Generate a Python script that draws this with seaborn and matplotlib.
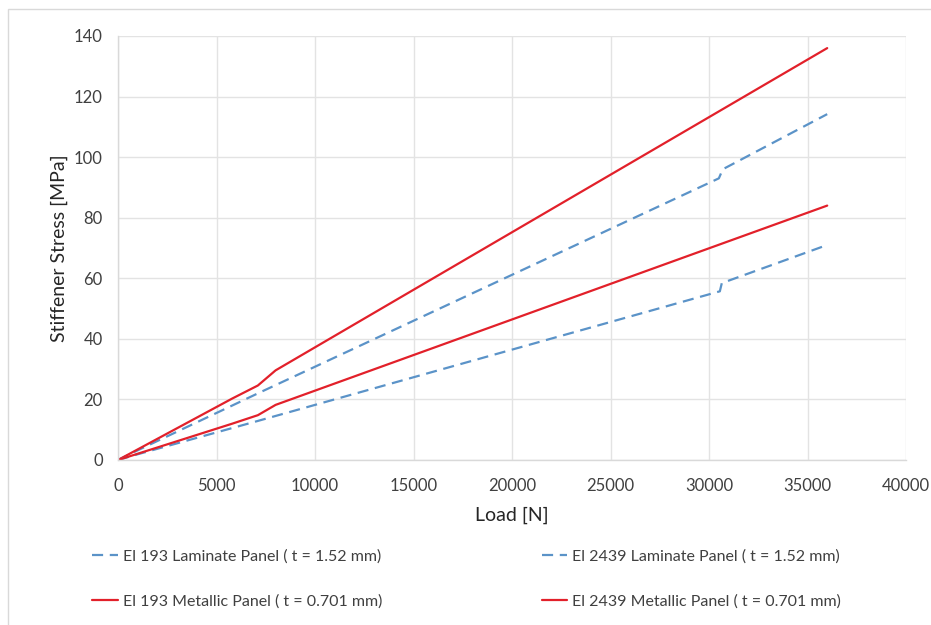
import matplotlib
matplotlib.use("Agg")
import matplotlib.pyplot as plt
from matplotlib.patches import Rectangle
import seaborn as sns
import pandas as pd

# Load (N) vs stiffener stress (MPa) for four element/panel combinations
load_lam_193 = [0, 1000, 7100, 30500, 30700, 36000]
stress_lam_193 = [0, 3.2, 22.0, 93.0, 96.0, 114.2]

load_lam_2439 = [0, 1000, 7100, 30550, 30650, 36000]
stress_lam_2439 = [0, 1.9, 12.9, 55.7, 58.4, 71.0]

load_met_193 = [0, 5800, 7100, 8000, 36000]
stress_met_193 = [0, 20.3, 24.6, 29.6, 136.0]

load_met_2439 = [0, 5800, 7100, 8000, 36000]
stress_met_2439 = [0, 12.0, 14.8, 18.2, 84.0]

series_names = [
    "El 193 Laminate Panel ( t = 1.52 mm)",
    "El 193 Metallic Panel ( t = 0.701 mm)",
    "El 2439 Laminate Panel ( t = 1.52 mm)",
    "El 2439 Metallic Panel ( t = 0.701 mm)",
]
x_ticks = [0, 5000, 10000, 15000, 20000, 25000, 30000, 35000, 40000]
y_ticks = [0, 20, 40, 60, 80, 100, 120, 140]

sns.set_theme(style="white")
plt.rcParams["font.family"] = ["Lato", "DejaVu Sans"]

BLUE = "#5B93C8"
RED = "#E2202A"
GRID = "#E3E3E3"

fig = plt.figure(figsize=(9.31, 6.25), dpi=100)
fig.patches.append(Rectangle((8 / 931, -0.1), 1.2, (625 - 9) / 625 + 0.1,
                             transform=fig.transFigure, fill=False,
                             edgecolor="#D9D9D9", linewidth=1.0))
ax = fig.add_axes([118 / 931, (625 - 460) / 625, (906 - 118) / 931, (460 - 36) / 625])

data = [
    (series_names[0], load_lam_193, stress_lam_193, BLUE, (5, 3)),
    (series_names[1], load_met_193, stress_met_193, RED, None),
    (series_names[2], load_lam_2439, stress_lam_2439, BLUE, (5, 3)),
    (series_names[3], load_met_2439, stress_met_2439, RED, None),
]

for name, xs, ys, color, dash in data:
    df = pd.DataFrame({"Load": xs, "Stress": ys})
    kw = dict(x="Load", y="Stress", data=df, ax=ax, color=color,
              linewidth=1.6, sort=False, estimator=None, label=name)
    if dash is not None:
        kw["dashes"] = dash
    sns.lineplot(**kw)

ax.set_xlim(0, 40000)
ax.set_ylim(0, 140)
ax.set_xticks(x_ticks)
ax.set_yticks(y_ticks)
ax.set_xticklabels([str(v) for v in x_ticks])
ax.set_yticklabels([str(v) for v in y_ticks])
ax.tick_params(axis="both", labelsize=12, colors="#404040", length=0)
ax.tick_params(axis="x", pad=13)
ax.tick_params(axis="y", pad=11)
ax.grid(True, color=GRID, linewidth=1.0)
ax.set_axisbelow(True)
for side in ["top", "right"]:
    ax.spines[side].set_visible(False)
for side in ["left", "bottom"]:
    ax.spines[side].set_color("#D9D9D9")
    ax.spines[side].set_linewidth(1.0)

ax.set_xlabel("Load [N]", fontsize=14, color="#262626", labelpad=9)
ax.set_ylabel("Stiffener Stress [MPa]", fontsize=14, color="#262626", labelpad=4)

handles, labels = ax.get_legend_handles_labels()
if ax.get_legend():
    ax.get_legend().remove()
fig.legend(handles, labels, loc="center left", ncol=2,
           bbox_to_anchor=(78 / 931, (625 - 579) / 625), frameon=False,
           fontsize=11.5, labelcolor="#404040", handlelength=1.6,
           handletextpad=0.3, columnspacing=10.0, labelspacing=1.9)

fig.savefig("out.png", dpi=100, facecolor="white")
